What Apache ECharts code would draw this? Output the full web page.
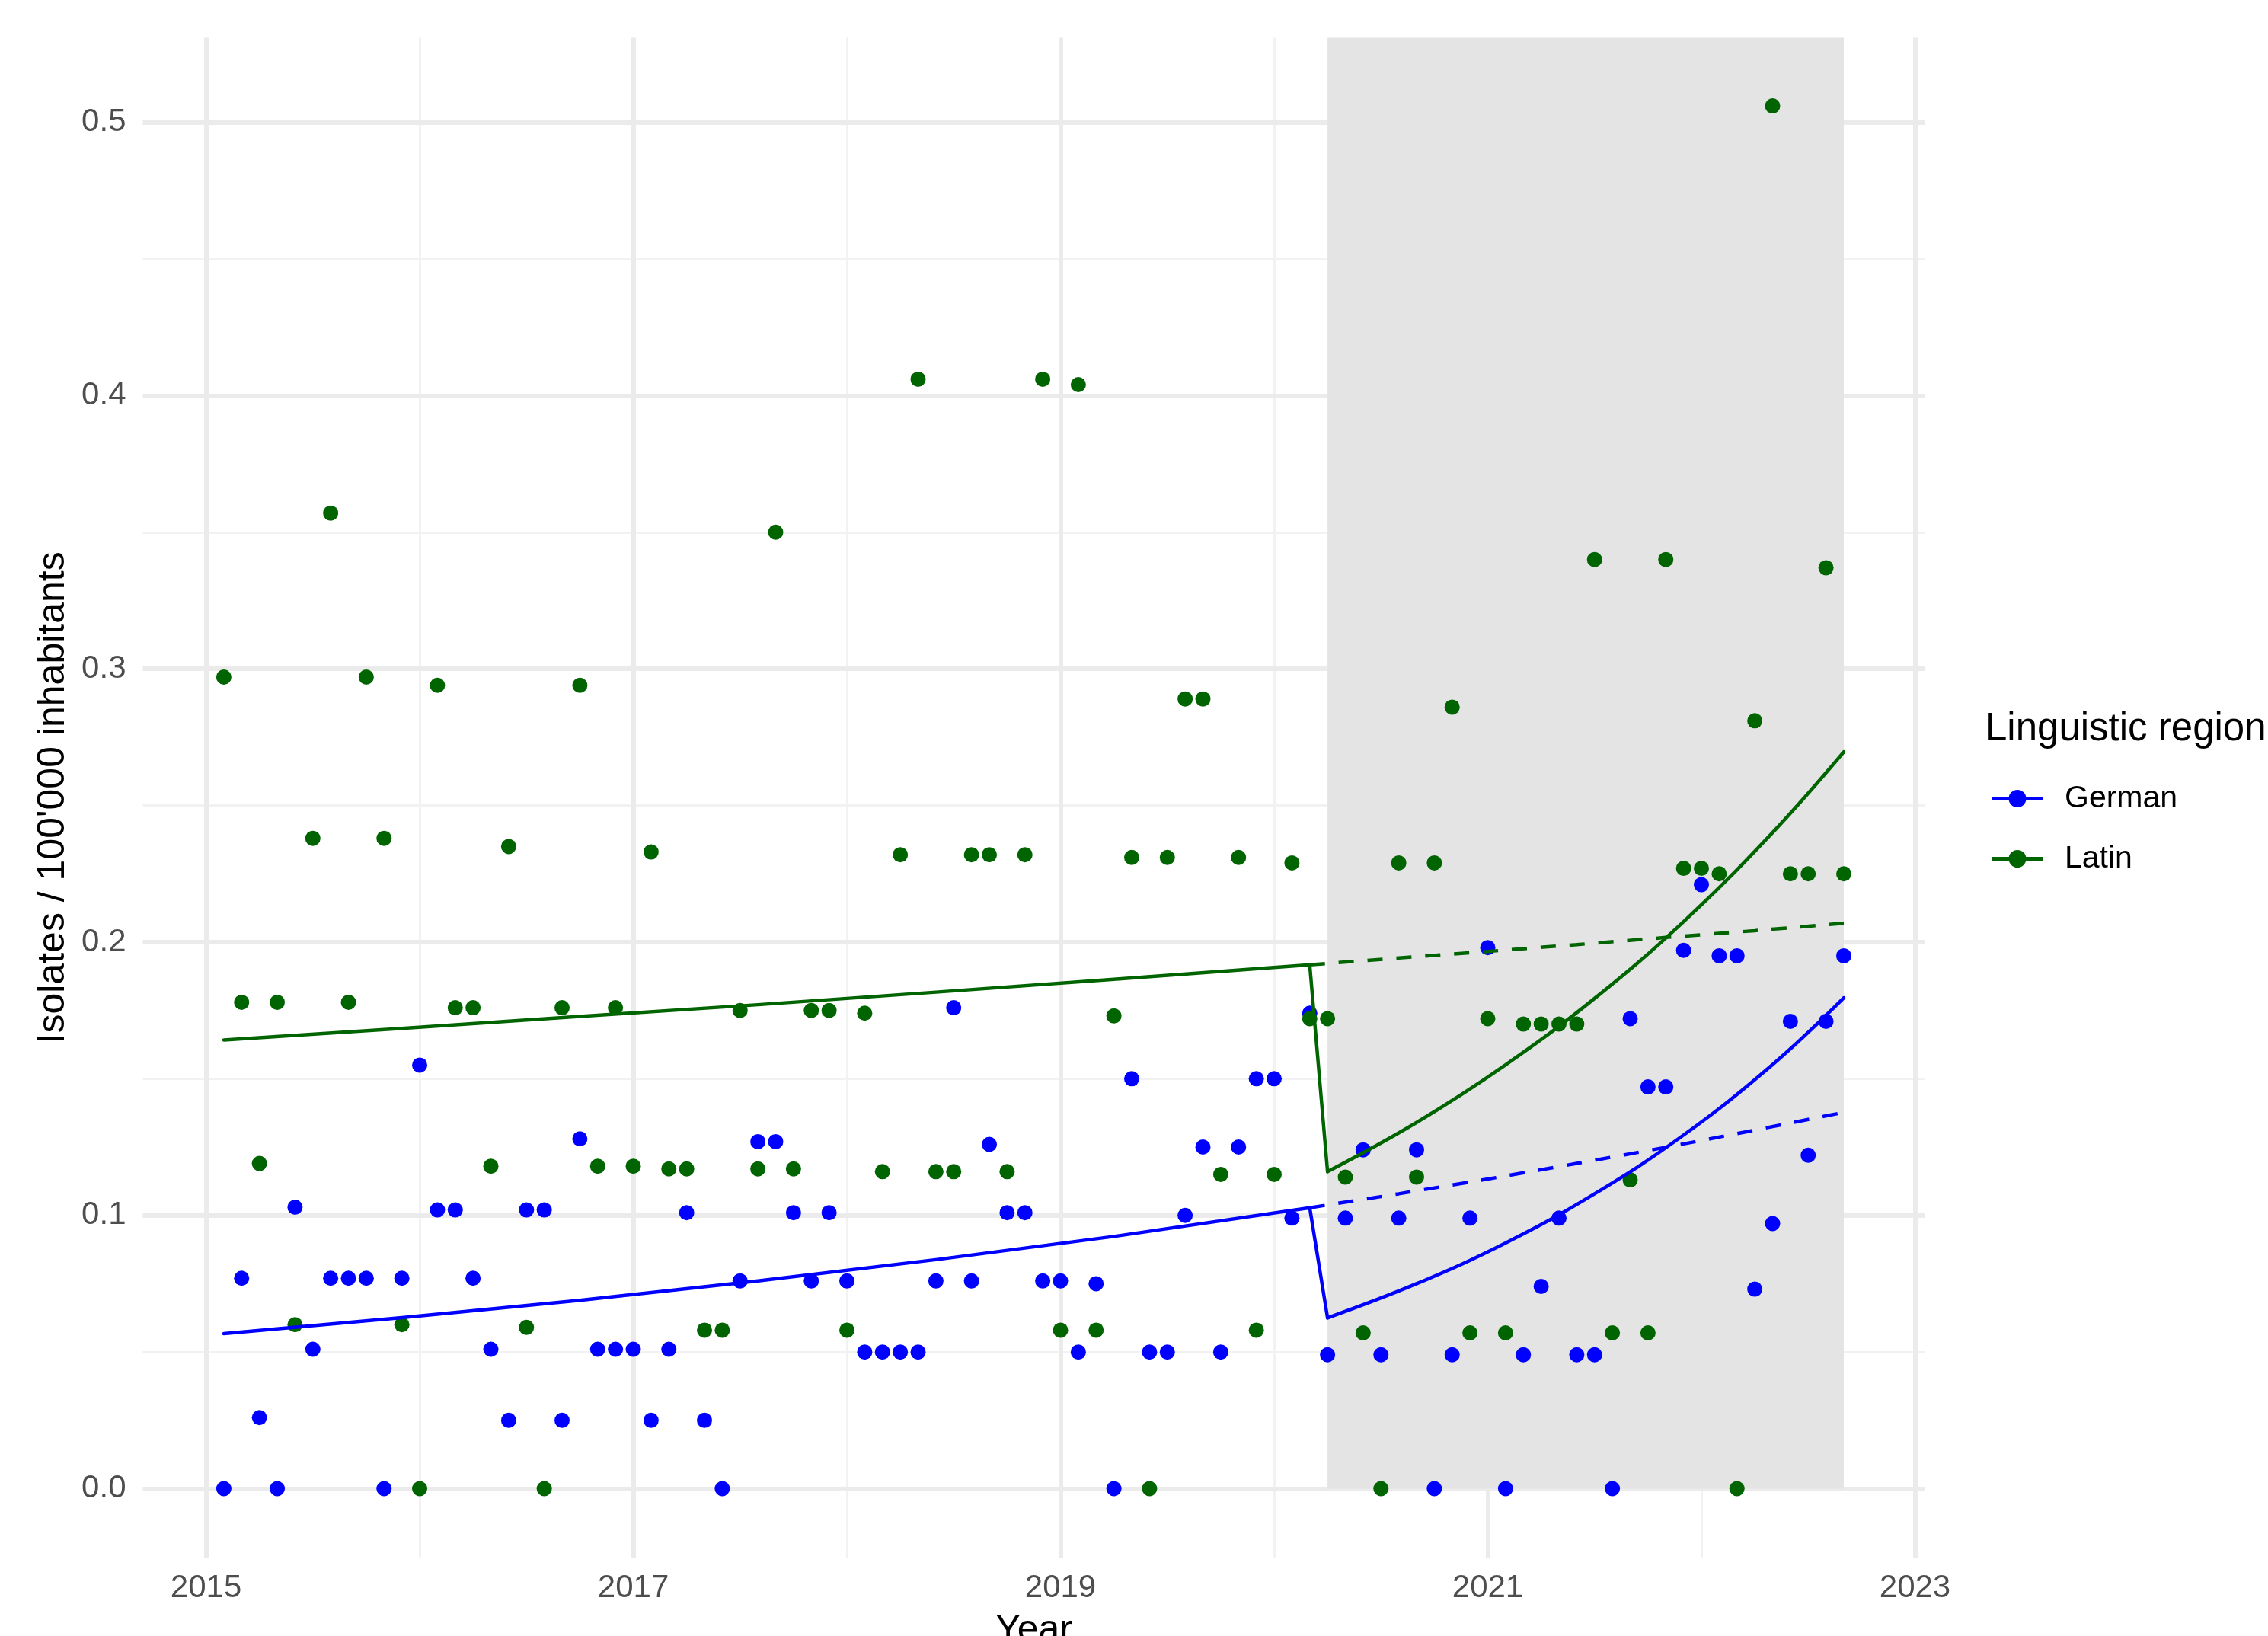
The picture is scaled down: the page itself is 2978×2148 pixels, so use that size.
<!DOCTYPE html>
<html>
<head>
<meta charset="utf-8">
<script src="https://cdn.jsdelivr.net/npm/echarts@6/dist/echarts.min.js"></script>
<style>
  html, body { margin: 0; padding: 0; background: #ffffff; }
  #chart { width: 2978px; height: 2148px; }
</style>
</head>
<body>
<div id="chart"></div>
<script>
// ---------------- DATA ----------------
// Monthly observations, month index 1 = first point (Feb 2015) ... 92 (Sep 2022)
const startYear = 2015;

const germanRate = [
  0.000, 0.077, 0.026, 0.000, 0.103, 0.051, 0.077, 0.077, 0.077, 0.000, 0.077, 0.155,
  0.102, 0.102, 0.077, 0.051, 0.025, 0.102, 0.102, 0.025, 0.128, 0.051, 0.051, 0.051,
  0.025, 0.051, 0.101, 0.025, 0.000, 0.076, 0.127, 0.127, 0.101, 0.076, 0.101, 0.076,
  0.050, 0.050, 0.050, 0.050, 0.076, 0.176, 0.076, 0.126, 0.101, 0.101, 0.076, 0.076,
  0.050, 0.075, 0.000, 0.150, 0.050, 0.050, 0.100, 0.125, 0.050, 0.125, 0.150, 0.150,
  0.099, 0.174, 0.049, 0.099, 0.124, 0.049, 0.099, 0.124, 0.000, 0.049, 0.099, 0.198,
  0.000, 0.049, 0.074, 0.099, 0.049, 0.049, 0.000, 0.172, 0.147, 0.147, 0.197, 0.221,
  0.195, 0.195, 0.073, 0.097, 0.171, 0.122, 0.171, 0.195
];

const latinRate = [
  0.297, 0.178, 0.119, 0.178, 0.060, 0.238, 0.357, 0.178, 0.297, 0.238, 0.060, 0.000,
  0.294, 0.176, 0.176, 0.118, 0.235, 0.059, 0.000, 0.176, 0.294, 0.118, 0.176, 0.118,
  0.233, 0.117, 0.117, 0.058, 0.058, 0.175, 0.117, 0.350, 0.117, 0.175, 0.175, 0.058,
  0.174, 0.116, 0.232, 0.406, 0.116, 0.116, 0.232, 0.232, 0.116, 0.232, 0.406, 0.058,
  0.404, 0.058, 0.173, 0.231, 0.000, 0.231, 0.289, 0.289, 0.115, 0.231, 0.058, 0.115,
  0.229, 0.172, 0.172, 0.114, 0.057, 0.000, 0.229, 0.114, 0.229, 0.286, 0.057, 0.172,
  0.057, 0.170, 0.170, 0.170, 0.170, 0.340, 0.057, 0.113, 0.057, 0.340, 0.227, 0.227,
  0.225, 0.000, 0.281, 0.506, 0.225, 0.225, 0.337, 0.225
];

// Fitted segmented-regression curves (at selected months)
const fitPreMonths  = [1, 11, 21, 31, 41, 51, 62];
const fitPostMonths = [63, 68, 73, 78, 83, 88, 92];
const counterfactualMonths = [62, 67, 72, 77, 82, 87, 92];

const germanFitPre  = [0.0567, 0.0626, 0.0689, 0.0760, 0.0838, 0.0923, 0.1028];
const germanFitPost = [0.0625, 0.0750, 0.0899, 0.1079, 0.1294, 0.1552, 0.1796];
const germanCounterfactual = [0.1028, 0.1079, 0.1133, 0.1190, 0.1249, 0.1312, 0.1377];

const latinFitPre  = [0.1642, 0.1684, 0.1728, 0.1771, 0.1817, 0.1864, 0.1917];
const latinFitPost = [0.1160, 0.1340, 0.1551, 0.1794, 0.2075, 0.2401, 0.2696];
const latinCounterfactual = [0.1917, 0.1942, 0.1966, 0.1991, 0.2017, 0.2042, 0.2069];

// Shaded intervention period (month indices)
const shadeStartMonth = 63;
const shadeEndMonth = 92;

// Axis ticks
const xTicks = [2015, 2017, 2019, 2021, 2023];
const xMinorTicks = [2016, 2018, 2020, 2022];
const yTicks = [0, 0.1, 0.2, 0.3, 0.4, 0.5];
const yMinorTicks = [0.05, 0.15, 0.25, 0.35, 0.45];

const seriesNames = ['German', 'Latin'];
const legendTitle = 'Linguistic region';
const xTitle = 'Year';
const yTitle = "Isolates / 100'000 inhabitants";

// ---------------- BUILD ----------------
const toYear = m => startYear + m / 12;
const monthSeries = vals => vals.map((v, i) => [toYear(i + 1), v]);
const pairs = (months, vals) => months.map((m, i) => [toYear(m), vals[i]]);

const BLUE = '#0000ff';
const GREEN = '#006400';
const FONT = '"Liberation Sans", Arial, Helvetica, sans-serif';
const LW = 4.5;

const xMin = 2014.704, xMax = 2023.046;
const yMin = -0.0253, yMax = 0.531;

const keyIcon = 'path://M0,9 L68,9 L68,14 L0,14 Z M22.5,11.5 A11,11 0 1,1 45.5,11.5 A11,11 0 1,1 22.5,11.5 Z';

const majorLine = { color: '#ebebeb', width: 6, type: 'solid' };
const minorLine = { color: '#f2f2f2', width: 3, type: 'solid' };

const gridLines = [
  ...xMinorTicks.map(v => ({ xAxis: v, lineStyle: minorLine })),
  ...yMinorTicks.map(v => ({ yAxis: v, lineStyle: minorLine })),
  ...xTicks.map(v => ({ xAxis: v, lineStyle: majorLine })),
  ...yTicks.map(v => ({ yAxis: v, lineStyle: majorLine }))
];

function fitSeries(name, color, months, vals, extra) {
  return Object.assign({
    name: name,
    type: 'line',
    z: 3,
    showSymbol: false,
    symbol: 'none',
    silent: true,
    lineStyle: { color: color, width: LW, cap: 'round', join: 'round' },
    data: pairs(months, vals)
  }, extra || {});
}

const chart = echarts.init(document.getElementById('chart'), null, { renderer: 'canvas' });

const option = {
  animation: false,
  backgroundColor: '#ffffff',
  title: {
    text: legendTitle,
    left: 2607,
    top: 932,
    padding: 0,
    textStyle: { fontSize: 51, fontWeight: 'normal', color: '#000000', fontFamily: FONT }
  },
  legend: {
    orient: 'vertical',
    left: 2610,
    top: 1023,
    itemWidth: 68,
    itemHeight: 23,
    itemGap: 38,
    selectedMode: false,
    data: seriesNames.map(n => ({ name: n, icon: keyIcon })),
    textStyle: { fontSize: 41, color: '#000000', fontFamily: FONT, padding: [0, 0, 0, 23] }
  },
  grid: {
    left: 187.5, right: 450.6, top: 49.4, bottom: 102.7,
    containLabel: false,
    outerBoundsMode: 'none'
  },
  xAxis: {
    type: 'value',
    min: xMin,
    max: xMax,
    name: xTitle,
    nameLocation: 'middle',
    nameGap: 71,
    nameTextStyle: { fontSize: 50, color: '#000000', fontFamily: FONT },
    axisLine: { show: false },
    axisTick: { show: false },
    splitLine: { show: false },
    axisLabel: {
      customValues: xTicks,
      formatter: v => String(Math.round(v)),
      fontSize: 42,
      color: '#4d4d4d',
      fontFamily: FONT,
      margin: 19
    }
  },
  yAxis: {
    type: 'value',
    min: yMin,
    max: yMax,
    name: yTitle,
    nameLocation: 'middle',
    nameRotate: 90,
    nameGap: 92,
    nameTextStyle: { fontSize: 50, color: '#000000', fontFamily: FONT },
    axisLine: { show: false },
    axisTick: { show: false },
    splitLine: { show: false },
    axisLabel: {
      customValues: yTicks,
      formatter: v => v.toFixed(1),
      fontSize: 42,
      color: '#4d4d4d',
      fontFamily: FONT,
      margin: 22
    }
  },
  series: [
    {
      name: 'gridlines',
      type: 'line',
      data: [],
      silent: true,
      z: 0,
      markLine: {
        silent: true,
        z: 0,
        symbol: ['none', 'none'],
        label: { show: false },
        emphasis: { disabled: true },
        data: gridLines
      }
    },
    {
      name: 'intervention',
      type: 'line',
      data: [],
      silent: true,
      z: 1,
      markArea: {
        silent: true,
        z: 1,
        itemStyle: { color: '#e4e4e4', opacity: 1 },
        label: { show: false },
        emphasis: { disabled: true },
        data: [[{ xAxis: toYear(shadeStartMonth), yAxis: 0 }, { xAxis: toYear(shadeEndMonth), yAxis: yMax }]]
      }
    },
    {
      name: 'German',
      type: 'scatter',
      z: 2,
      symbol: 'circle',
      symbolSize: 20,
      itemStyle: { color: BLUE, opacity: 1 },
      data: monthSeries(germanRate)
    },
    {
      name: 'Latin',
      type: 'scatter',
      z: 2,
      symbol: 'circle',
      symbolSize: 20,
      itemStyle: { color: GREEN, opacity: 1 },
      data: monthSeries(latinRate)
    },
    // pre-intervention trend plus the drop to the first post-intervention month
    fitSeries('German fit pre', BLUE,
      fitPreMonths.concat([fitPostMonths[0]]),
      germanFitPre.concat([germanFitPost[0]])),
    fitSeries('German fit post', BLUE, fitPostMonths, germanFitPost, { smooth: 0.4 }),
    fitSeries('German counterfactual', BLUE, counterfactualMonths, germanCounterfactual,
      { lineStyle: { color: BLUE, width: LW, type: [20, 18] } }),
    fitSeries('Latin fit pre', GREEN,
      fitPreMonths.concat([fitPostMonths[0]]),
      latinFitPre.concat([latinFitPost[0]])),
    fitSeries('Latin fit post', GREEN, fitPostMonths, latinFitPost, { smooth: 0.4 }),
    fitSeries('Latin counterfactual', GREEN, counterfactualMonths, latinCounterfactual,
      { lineStyle: { color: GREEN, width: LW, type: [20, 18] } })
  ]
};

chart.setOption(option);
</script>
</body>
</html>
